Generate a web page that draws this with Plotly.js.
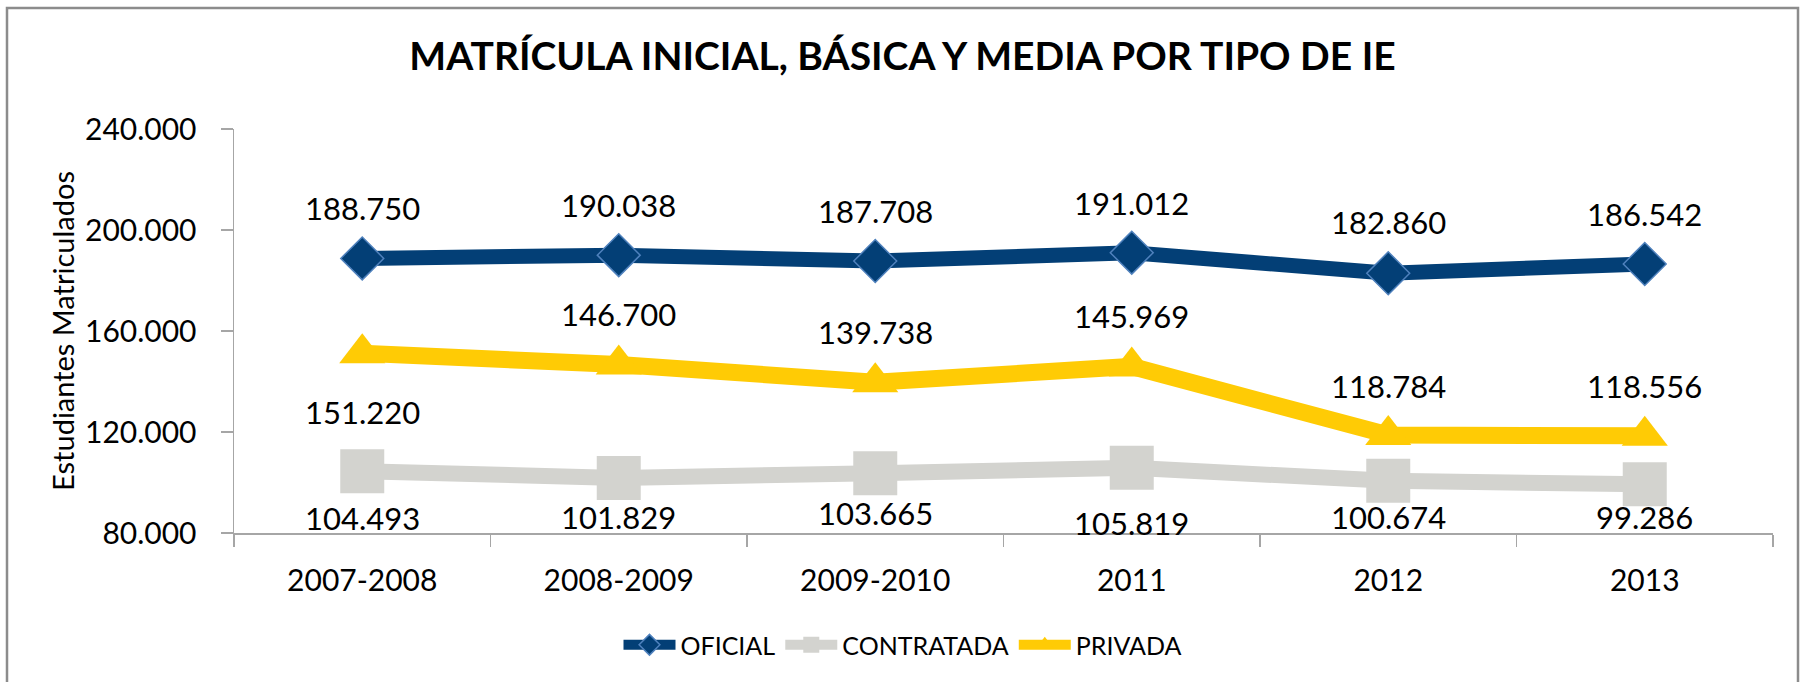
<!DOCTYPE html>
<html>
<head>
<meta charset="utf-8">
<script src="https://cdn.plot.ly/plotly-3.0.1.min.js"></script>
<style>
  html, body { margin: 0; padding: 0; background: #ffffff; overflow: hidden; }
  #chart { width: 1805px; height: 682px; }
</style>
</head>
<body>
<div id="chart"></div>
<script>
// ---- data ----
const categories = ["2007-2008", "2008-2009", "2009-2010", "2011", "2012", "2013"];
const oficial    = [188750, 190038, 187708, 191012, 182860, 186542];
const contratada = [104493, 101829, 103665, 105819, 100674, 99286];
const privada    = [151220, 146700, 139738, 145969, 118784, 118556];
const seriesNames = ["OFICIAL", "CONTRATADA", "PRIVADA"];
const yTicks = [80000, 120000, 160000, 200000, 240000];

// ---- styling ----
const FONT = "Lato, 'Open Sans', sans-serif";
const colors = { OFICIAL: "#033F76", CONTRATADA: "#D3D3CF", PRIVADA: "#FFCB05" };
// label vertical offsets in px (positive = up)
const labelShift = {
  OFICIAL:    [50, 50, 50, 50, 51, 50],
  CONTRATADA: [-47, -39, -40, -55, -36, -33],
  PRIVADA:    [-59, 51, 50, 50, 49, 50]
};

function fmt(v) {
  return String(v).replace(/\B(?=(\d{3})+(?!\d))/g, ".");
}

const seriesData = { OFICIAL: oficial, CONTRATADA: contratada, PRIVADA: privada };

const traces = [
  {
    name: "OFICIAL", x: categories, y: oficial, type: "scatter", mode: "lines+markers",
    line: { color: colors.OFICIAL, width: 15 },
    marker: { symbol: "diamond", size: 33, color: colors.OFICIAL, line: { color: "#4F81BD", width: 1.5 } }
  },
  {
    name: "CONTRATADA", x: categories, y: contratada, type: "scatter", mode: "lines+markers",
    line: { color: colors.CONTRATADA, width: 16 },
    marker: { symbol: "square", size: 44, color: colors.CONTRATADA }
  },
  {
    name: "PRIVADA", x: categories, y: privada, type: "scatter", mode: "lines+markers",
    line: { color: colors.PRIVADA, width: 17 },
    marker: { symbol: "triangle-up", size: 40, color: colors.PRIVADA }
  }
];

const annotations = [];
seriesNames.forEach(function (s) {
  seriesData[s].forEach(function (v, i) {
    annotations.push({
      x: i, y: v, xref: "x", yref: "y",   // category index on the category axis
      text: fmt(v), showarrow: false,
      yshift: labelShift[s][i],
      font: { family: FONT, size: 31, color: "#000000" }
    });
  });
});

// chart frame (decoration), in paper units relative to the plot area
const M = { l: 234, r: 32, t: 129, b: 149 };
const W = 1805, H = 682;
const pw = W - M.l - M.r, ph = H - M.t - M.b;
const frame = {
  type: "rect", xref: "paper", yref: "paper", layer: "above",
  x0: (7 - M.l) / pw, x1: (1798 - M.l) / pw,
  y0: (H - M.b - 720) / ph, y1: (H - M.b - 8) / ph,
  line: { color: "#8c8c8c", width: 2.5 }, fillcolor: "rgba(0,0,0,0)"
};

const layout = {
  width: W, height: H,
  margin: { l: M.l, r: M.r, t: M.t, b: M.b, pad: 0 },
  paper_bgcolor: "#ffffff", plot_bgcolor: "#ffffff",
  separators: ",.",
  font: { family: FONT, color: "#000000" },
  title: {
    text: "MATRÍCULA INICIAL, BÁSICA Y MEDIA POR TIPO DE IE",
    font: { family: FONT, size: 39, color: "#000000", weight: 700 },
    x: 0.5, xref: "container", xanchor: "center",
    y: 1 - 56 / 682, yref: "container", yanchor: "middle"
  },
  xaxis: {
    type: "category", range: [-0.5, 5.5],
    showgrid: false, zeroline: false,
    showline: true, linecolor: "#A6A6A6", linewidth: 1.5,
    ticks: "outside", tickson: "boundaries", ticklen: 12, tickcolor: "#A6A6A6", tickwidth: 1.5,
    ticklabelstandoff: 20,
    tickfont: { family: FONT, size: 30, color: "#000000" },
    fixedrange: true
  },
  yaxis: {
    range: [80000, 240000], tickvals: yTicks, tickformat: ",d",
    showgrid: false, zeroline: false,
    showline: true, linecolor: "#A6A6A6", linewidth: 1.5,
    ticks: "outside", ticklen: 12, tickcolor: "#A6A6A6", tickwidth: 1.5,
    ticklabelstandoff: 18,
    tickfont: { family: FONT, size: 30, color: "#000000" },
    title: { text: "Estudiantes Matriculados", font: { family: FONT, size: 29, color: "#000000" }, standoff: 2 },
    fixedrange: true
  },
  showlegend: true,
  legend: {
    orientation: "h", xref: "container", yref: "container",
    x: 0.5, xanchor: "center", y: 1 - 645 / 682, yanchor: "middle",
    font: { family: FONT, size: 25, color: "#000000" },
    itemwidth: 52,
    bgcolor: "rgba(0,0,0,0)", traceorder: "normal"
  },
  shapes: [frame],
  annotations: annotations
};

Plotly.newPlot("chart", traces, layout, { displayModeBar: false, staticPlot: true });
</script>
</body>
</html>
